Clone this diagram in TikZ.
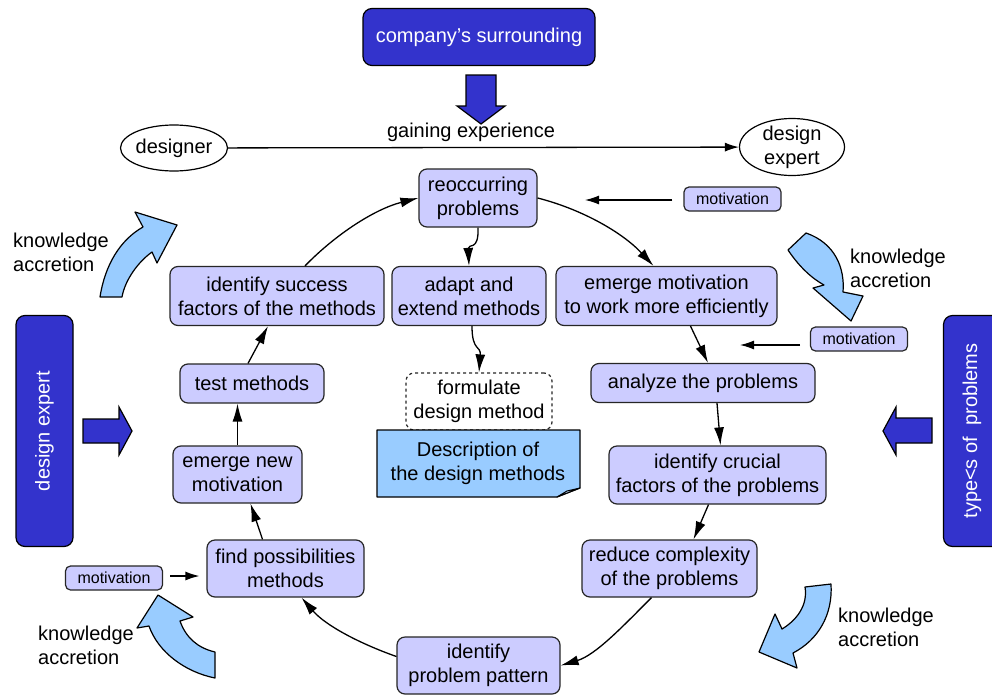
\documentclass[tikz,border=0pt]{standalone}
\usepackage{fontspec}
\setmainfont{Liberation Sans}
\usetikzlibrary{arrows.meta,shapes.geometric,calc}
\definecolor{boxfill}{HTML}{CCCCFF}
\definecolor{darkblue}{HTML}{3333CC}
\definecolor{lightblue}{HTML}{99CCFF}
\begin{document}
\begin{tikzpicture}[x=1pt,y=-1pt,
  font=\fontsize{20}{24}\selectfont,
  arr/.style={-{Latex[length=18pt,width=10pt]}, line width=1.3pt},
  sarr/.style={-{Latex[length=14pt,width=9pt]}, line width=1.3pt},
  box/.style={draw=black!85, fill=boxfill, rounded corners=8pt, line width=1.2pt, align=center, inner sep=0pt},
  bluebox/.style={draw=black, fill=darkblue, rounded corners=9pt, line width=1.2pt, text=white, align=center, inner sep=0pt},
  motbox/.style={box, rounded corners=5pt, font=\fontsize{16}{19}\selectfont, minimum width=97pt, minimum height=24pt},
  oval/.style={ellipse, draw, line width=1.2pt, align=center, inner sep=-3pt},
  kaccr/.style={fill=lightblue, draw=black, line width=1.2pt, line join=round},
  blockarr/.style={fill=darkblue, draw=black, line width=1.2pt, line join=miter},
  klabel/.style={anchor=west, align=left, inner sep=0pt}
]
\path[use as bounding box, fill=white] (0,0) rectangle (992,696);

% top
\node[bluebox, minimum width=232pt, minimum height=57pt] (comp) at (479,37) {company’s surrounding};
\path[blockarr] (466,75) -- (496,75) -- (496,106) -- (505,106) -- (481,124) -- (457,106) -- (466,106) -- cycle;

\node[oval, minimum width=107pt, minimum height=46pt] (designer) at (174,148) {designer};
\node[oval, minimum width=105pt, minimum height=57pt] (expert) at (792,147) {design\\expert};
\draw[sarr] (designer) -- (expert);
\node (gain) at (471,132) {gaining experience};

% side bars
\node[bluebox, rotate=90, minimum width=231pt, minimum height=57pt] (leftbar) at (44.5,431) {design expert};
\path[blockarr] (83,419) -- (119,419) -- (119,407) -- (132,431) -- (119,455) -- (119,443) -- (83,443) -- cycle;
\begin{scope}
\clip (0,0) rectangle (992,696);
\node[bluebox, rotate=90, minimum width=231pt, minimum height=57pt] (rightbar) at (972,431) {type<s of~~problems};
\end{scope}
\path[blockarr] (932,418) -- (896,418) -- (896,407) -- (883,431) -- (896,455) -- (896,443) -- (932,443) -- cycle;

% cycle boxes
\node[box, minimum width=118pt, minimum height=58pt] (reo) at (478,198) {reoccurring\\problems};
\node[box, minimum width=154pt, minimum height=59pt] (adapt) at (469,296) {adapt and\\extend methods};
\node[box, minimum width=214pt, minimum height=59pt] (succ) at (277,296) {identify success\\factors of the methods};
\node[box, minimum width=221pt, minimum height=59pt] (emot) at (666.5,296) {emerge motivation\\to work more efficiently};
\node[box, minimum width=224pt, minimum height=39pt] (ana) at (703,383) {analyze the problems};
\node[box, minimum width=217pt, minimum height=58pt] (crux) at (717.5,475) {identify crucial\\factors of the problems};
\node[box, minimum width=175pt, minimum height=57pt] (red) at (669.5,568.5) {reduce complexity\\of the problems};
\node[box, minimum width=163pt, minimum height=57pt] (pat) at (478.5,665.5) {identify\\problem pattern};
\node[box, minimum width=157pt, minimum height=57pt] (find) at (285.5,568.5) {find possibilities\\methods};
\node[box, minimum width=129pt, minimum height=57pt] (enew) at (237.5,474.5) {emerge new\\motivation};
\node[box, minimum width=144pt, minimum height=39pt] (test) at (252,383.5) {test methods};

% center
\node[box, fill=white, dashed, minimum width=146pt, minimum height=57pt] (form) at (479,401.5) {formulate\\design method};
\path[fill=lightblue, draw=black, line width=1.2pt, line join=round] (377,430) -- (580,430) -- (580,488) -- (557,497) -- (377,497) -- cycle;
\path[fill=lightblue!55, draw=black, line width=1pt, line join=round] (580,488) -- (567,491) -- (557,497) -- cycle;
\node[align=center] (doc) at (478,463) {Description of\\the design methods};

% motivation boxes
\node[motbox] (mot1) at (732.5,199) {motivation};
\node[motbox] (mot2) at (859,339) {motivation};
\node[motbox] (mot3) at (114,578) {motivation};
\coordinate (m1end) at (585,200);
\coordinate (m2end) at (740,345);
\coordinate (m3start) at (170,576);
\draw[sarr] ([xshift=-11pt,yshift=-1pt]mot1.west) -- (m1end);
\draw[sarr] (800,345) -- (m2end);
\draw[sarr] (m3start) -- ([xshift=-7pt]find.west |- m3start);

% connectors
\draw[arr] ([xshift=28pt]succ.north) .. controls (336,234) and (375,209) .. (reo.west);
\draw[arr] (reo.east) .. controls (581,209) and (622,232) .. ([xshift=-13pt]emot.north);
\draw[arr] (reo.south) .. controls (479,252) and (468,243) .. (adapt.north);
\draw[arr] ([xshift=3pt]adapt.south) .. controls (472,352) and (481,345) .. (form.north);
\draw[arr] ([xshift=24pt]emot.south) -- ([xshift=5pt]ana.north);
\draw[arr] ([xshift=14pt]ana.south) -- ([xshift=3pt]crux.north);
\draw[arr] ([xshift=-9pt]crux.south) -- ([xshift=24pt]red.north);
\draw[arr] ([xshift=-18pt]red.south) .. controls (624,625) and (596,655) .. (pat.east);
\draw[arr] ([yshift=9pt]pat.west) .. controls (361,644) and (326,626) .. ([xshift=16pt]find.south);
\draw[arr] ([xshift=-23pt]find.north) -- ([xshift=13pt]enew.south);
\draw[arr] (enew.north) -- (enew.north |- test.south);
\draw[arr] ([xshift=-4pt]test.north) -- ([xshift=-9pt]succ.south);

% knowledge accretion arrows
\path[kaccr] (100,297) .. controls (105,265) and (120,240) .. (143,227) -- (135,212) -- (177,225) -- (157,263) -- (152,252) .. controls (138,262) and (125,280) .. (122,297) -- cycle;
\path[kaccr] (788,250) .. controls (800,268) and (813,279) .. (824,285) -- (813,288) -- (851,321) -- (863,296) -- (843,292) .. controls (845,268) and (835,243) .. (806,233) -- cycle;
\path[kaccr] (215,678) .. controls (185,672) and (158,652) .. (149,626) -- (137,628) -- (158,595) -- (193,617) -- (180,621) .. controls (186,638) and (198,648) .. (215,652) -- cycle;
\path[kaccr] (831,584) .. controls (833,615) and (818,640) .. (793,653) -- (797,668) -- (759,652) -- (775,614) -- (782,629) .. controls (797,620) and (808,605) .. (805,587) -- cycle;

\node[klabel] (k1) at (13,252) {knowledge\\accretion};
\node[klabel] (k2) at (850,268) {knowledge\\accretion};
\node[klabel] (k3) at (38,645) {knowledge\\accretion};
\node[klabel] (k4) at (838,627) {knowledge\\accretion};
\end{tikzpicture}
\end{document}
